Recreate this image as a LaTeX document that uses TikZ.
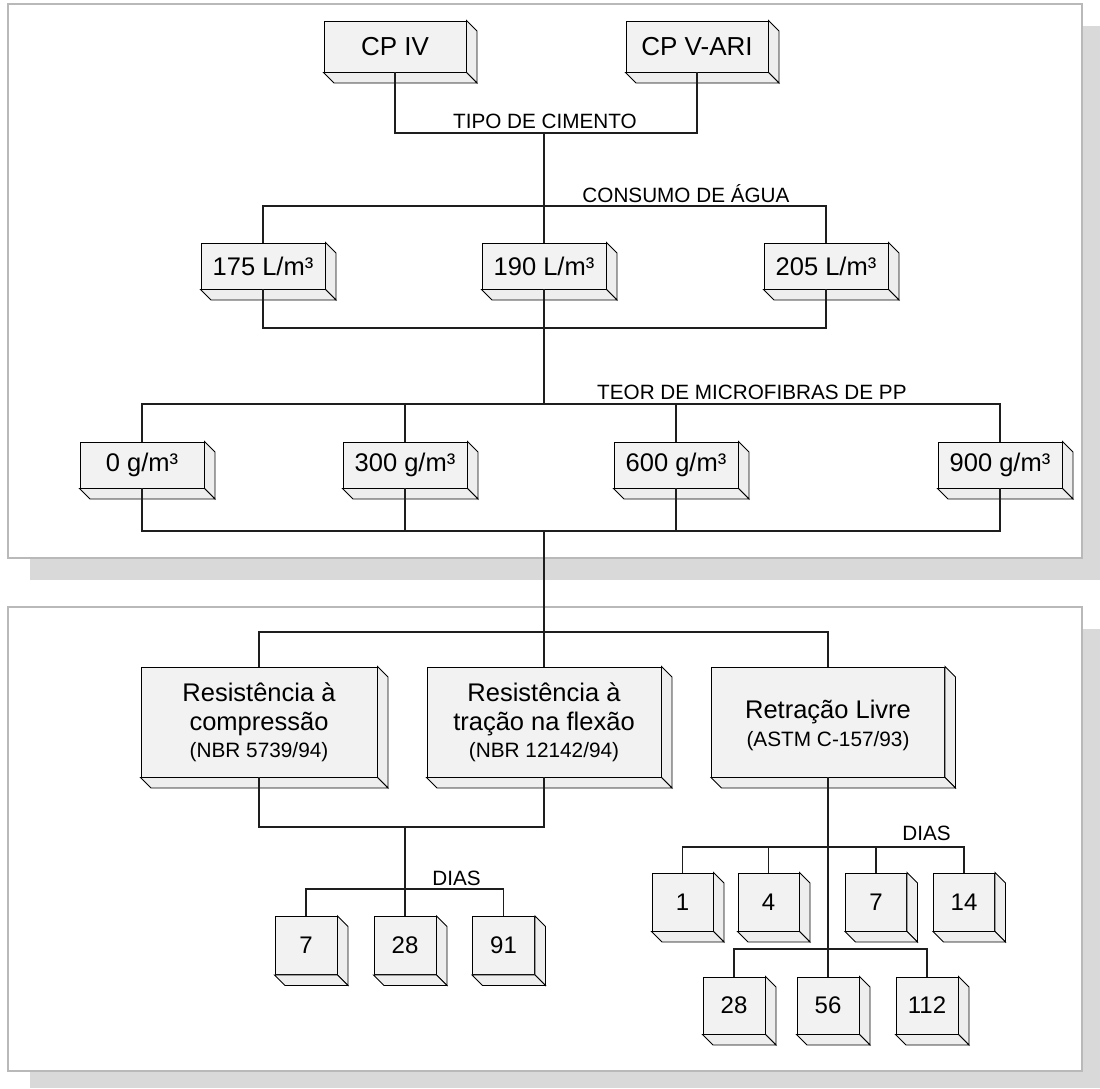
\documentclass[tikz,border=0pt]{standalone}
\usepackage{fontspec}
\setmainfont{Liberation Sans}
\definecolor{boxfill}{RGB}{242,242,242}
\definecolor{sidefill}{RGB}{238,238,238}
\definecolor{panelline}{RGB}{185,185,185}
\definecolor{pshadowc}{RGB}{217,217,217}
\definecolor{wirec}{RGB}{30,30,30}
\tikzset{
  front/.style={draw=black, line width=0.9, fill=boxfill, inner sep=0pt, align=center},
  sideface/.style={draw=black, line width=0.9, fill=sidefill, line join=miter},
  wire/.style={draw=wirec, line width=1.1},
  panel/.style={draw=panelline, line width=1.5, fill=white},
  pshadow/.style={fill=pshadowc},
  lbl/.style={font=\fontsize{20.7}{22}\selectfont, inner sep=0pt, anchor=base},
  bigtxt/.style={font=\fontsize{26}{28}\selectfont},
  midtxt/.style={font=\fontsize{25.5}{29}\selectfont},
  daytxt/.style={font=\fontsize{24}{26}\selectfont},
}
\newcommand\mycube[6]{%
  \node[front, #5, minimum width=#3pt, minimum height=#4pt] (#1) at (#2) {#6};
  \draw[sideface] (#1.north east) -- ++(10.5,10.5) -- ([shift={(10.5,10.5)}]#1.south east) -- (#1.south east) -- cycle;
  \draw[sideface] (#1.south west) -- (#1.south east) -- ++(10.5,10.5) -- ([shift={(10.5,10.5)}]#1.south west) -- cycle;
}
\newcommand\smalltxt[1]{{\fontsize{20.8}{22}\selectfont #1}}
\begin{document}
\begin{tikzpicture}[x=1pt,y=-1pt]
\useasboundingbox (0,0) rectangle (1100,1088);
% panels
\fill[pshadow] (30,26) rectangle (1100,580);
\draw[panel] (8,4) rectangle (1082,558);
\fill[pshadow] (30,629) rectangle (1100,1088);
\draw[panel] (8,607) rectangle (1082,1071);

% junction coordinates
\coordinate (j1) at (544,133);
\coordinate (j2) at (544,206);
\coordinate (j3) at (544,328);
\coordinate (j4) at (544,404);
\coordinate (j5) at (544,531);
\coordinate (j6) at (544,632);
\coordinate (j7) at (405,827);
\coordinate (j8) at (405,889);
\coordinate (j9) at (828,847);
\coordinate (j10) at (828,949);

% boxes
\mycube{cp4}{395,46.5}{142}{51}{bigtxt}{CP IV}
\mycube{cp5}{697,46.5}{142}{51}{bigtxt}{CP V-ARI}
\mycube{a175}{263,266}{124}{46}{midtxt}{175 L/m³}
\mycube{a190}{544,266}{124}{46}{midtxt}{190 L/m³}
\mycube{a205}{826,266}{124}{46}{midtxt}{205 L/m³}
\mycube{f0}{142,465}{124}{46}{midtxt}{0 g/m³}
\mycube{f300}{405,465}{124}{46}{midtxt}{300 g/m³}
\mycube{f600}{676,465}{124}{46}{midtxt}{600 g/m³}
\mycube{f900}{1000,465}{124}{46}{midtxt}{900 g/m³}
\mycube{rc}{259,722}{236}{110}{midtxt}{Resistência à\\compressão\\[-2pt]\smalltxt{(NBR 5739/94)}}
\mycube{rt}{544,722}{234}{110}{midtxt}{Resistência à\\tração na flexão\\[-2pt]\smalltxt{(NBR 12142/94)}}
\mycube{rl}{828,722}{233}{110}{midtxt}{\rule{0pt}{25pt}Retração Livre\\[-1pt]\smalltxt{(ASTM C-157/93)}}
\mycube{d7}{306,945.5}{62}{58}{daytxt}{7}
\mycube{d28}{405,945.5}{62}{58}{daytxt}{28}
\mycube{d91}{503.5,945.5}{62}{58}{daytxt}{91}
\mycube{r1}{682.5,902}{61}{58}{daytxt}{1}
\mycube{r4}{768.5,902}{61}{58}{daytxt}{4}
\mycube{r7}{876,902}{61}{58}{daytxt}{7}
\mycube{r14}{964,902}{61}{58}{daytxt}{14}
\mycube{r28}{734,1005.5}{62}{57}{daytxt}{28}
\mycube{r56}{828,1005.5}{62}{57}{daytxt}{56}
\mycube{r112}{927,1005.5}{62}{57}{daytxt}{112}

% connectors
\draw[wire] (cp4.south) |- (j1) -| (cp5.south);
\draw[wire] (j1) -- (a190.north);
\draw[wire] (a175.north) |- (j2) -| (a205.north);
\draw[wire] (a175.south) |- (j3) -| (a205.south);
\draw[wire] (a190.south) -- (j4);
\draw[wire] (f0.north) |- (j4) -| (f900.north);
\draw[wire] (f300.north) -- (f300.north |- j4);
\draw[wire] (f600.north) -- (f600.north |- j4);
\draw[wire] (f0.south) |- (j5) -| (f900.south);
\draw[wire] (f300.south) -- (f300.south |- j5);
\draw[wire] (f600.south) -- (f600.south |- j5);
\draw[wire] (j5) -- (rt.north);
\draw[wire] (rc.north) |- (j6) -| (rl.north);
\draw[wire] (rc.south) |- (j7) -| (rt.south);
\draw[wire] (j7) -- (d28.north);
\draw[wire] (d7.north) |- (j8) -| (d91.north);
\draw[wire] (rl.south) -- (r56.north);
\draw[wire] (r1.north) |- (j9) -| (r14.north);
\draw[wire] (r4.north) -- (r4.north |- j9);
\draw[wire] (r7.north) -- (r7.north |- j9);
\draw[wire] (r28.north) |- (j10) -| (r112.north);

% labels
\node[lbl] (ltipo) at (545,128) {TIPO DE CIMENTO};
\node[lbl] (lagua) at (686,202) {CONSUMO DE ÁGUA};
\node[lbl, anchor=base west] (lteor) at (597,399) {TEOR DE MICROFIBRAS DE PP};
\node[lbl] (ldias1) at (456.5,885) {DIAS};
\node[lbl] (ldias2) at (926.5,840) {DIAS};
\end{tikzpicture}
\end{document}
